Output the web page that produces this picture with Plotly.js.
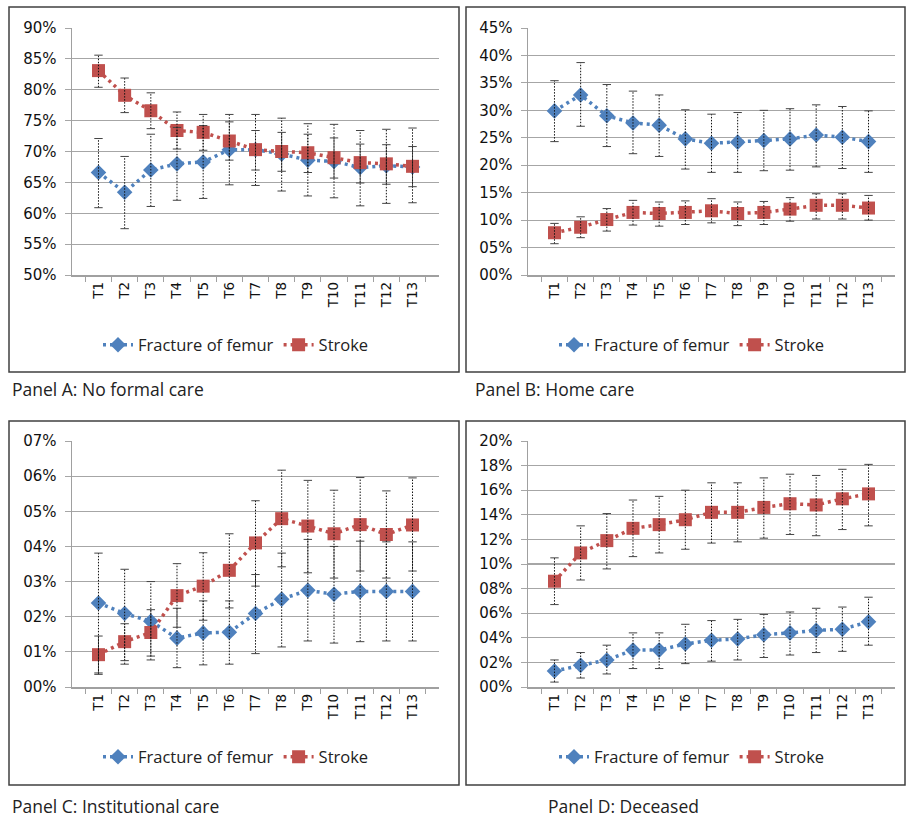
<!DOCTYPE html>
<html>
<head>
<meta charset="utf-8">
<script src="https://cdn.plot.ly/plotly-3.0.1.min.js"></script>
<style>html,body{margin:0;padding:0;background:#fff;}#chart{width:907px;height:819px;}</style>
</head>
<body>
<div id="chart"></div>
<script>
// ---------- DATA ----------
const categories = ["T1","T2","T3","T4","T5","T6","T7","T8","T9","T10","T11","T12","T13"];
const seriesNames = ["Fracture of femur", "Stroke"];

// Panel A: No formal care (%)
const femurA    = [66.6, 63.4, 67.0, 68.0, 68.3, 70.3, 70.3, 69.6, 68.6, 68.4, 67.4, 67.7, 67.5];
const femurA_hi = [72.1, 69.2, 72.8, 73.9, 74.2, 76.0, 76.0, 75.4, 74.5, 74.4, 73.4, 73.6, 73.8];
const femurA_lo = [60.9, 57.5, 61.1, 62.1, 62.4, 64.6, 64.5, 63.6, 62.8, 62.5, 61.2, 61.6, 61.7];
const strokeA    = [83.1, 79.1, 76.6, 73.4, 73.1, 71.7, 70.3, 70.0, 69.8, 69.0, 68.2, 68.0, 67.6];
const strokeA_hi = [85.6, 81.9, 79.5, 76.4, 76.0, 74.8, 73.4, 73.1, 72.8, 72.2, 71.2, 71.1, 70.8];
const strokeA_lo = [80.4, 76.3, 73.7, 70.4, 70.2, 68.6, 67.0, 66.8, 66.6, 65.7, 64.9, 64.7, 64.3];

// Panel B: Home care (%)
const femurB    = [29.9, 32.8, 29.0, 27.7, 27.3, 24.8, 24.0, 24.2, 24.5, 24.8, 25.5, 25.1, 24.3];
const femurB_hi = [35.4, 38.7, 34.7, 33.5, 32.8, 30.1, 29.3, 29.6, 30.0, 30.3, 31.0, 30.7, 29.9];
const femurB_lo = [24.3, 27.1, 23.4, 22.1, 21.6, 19.3, 18.7, 18.7, 19.0, 19.1, 19.7, 19.4, 18.7];
const strokeB    = [7.7, 8.7, 10.1, 11.4, 11.2, 11.4, 11.7, 11.2, 11.4, 12.0, 12.7, 12.7, 12.2];
const strokeB_hi = [9.4, 10.6, 12.1, 13.6, 13.3, 13.5, 13.9, 13.3, 13.4, 14.1, 14.8, 14.8, 14.5];
const strokeB_lo = [5.7, 6.8, 8.0, 9.1, 8.9, 9.2, 9.5, 9.0, 9.2, 9.8, 10.2, 10.2, 10.0];

// Panel C: Institutional care
const femurC    = [2.39, 2.09, 1.87, 1.39, 1.54, 1.56, 2.09, 2.50, 2.75, 2.64, 2.72, 2.72, 2.72];
const femurC_hi = [3.81, 3.35, 3.00, 2.24, 2.45, 2.45, 3.20, 3.81, 4.20, 4.00, 4.15, 4.13, 4.13];
const femurC_lo = [0.36, 0.65, 0.77, 0.55, 0.63, 0.65, 0.95, 1.14, 1.31, 1.25, 1.29, 1.31, 1.31];
const strokeC    = [0.92, 1.29, 1.55, 2.60, 2.87, 3.32, 4.10, 4.79, 4.58, 4.36, 4.62, 4.34, 4.61];
const strokeC_hi = [1.45, 1.80, 2.20, 3.51, 3.82, 4.36, 5.30, 6.17, 5.88, 5.60, 5.96, 5.58, 5.95];
const strokeC_lo = [0.40, 0.75, 0.88, 1.70, 1.90, 2.25, 2.87, 3.42, 3.25, 3.10, 3.30, 3.10, 3.30];

// Panel D: Deceased
const femurD    = [1.3, 1.76, 2.2, 3.0, 3.0, 3.5, 3.8, 3.9, 4.25, 4.4, 4.6, 4.7, 5.3];
const femurD_hi = [2.2, 2.8, 3.4, 4.4, 4.4, 5.1, 5.4, 5.5, 5.9, 6.1, 6.4, 6.5, 7.3];
const femurD_lo = [0.4, 0.73, 1.06, 1.5, 1.5, 1.9, 2.1, 2.2, 2.4, 2.6, 2.8, 2.9, 3.4];
const strokeD    = [8.6, 10.9, 11.9, 12.9, 13.2, 13.6, 14.2, 14.2, 14.6, 14.9, 14.8, 15.3, 15.7];
const strokeD_hi = [10.5, 13.1, 14.1, 15.2, 15.5, 16.0, 16.6, 16.6, 17.0, 17.3, 17.2, 17.7, 18.1];
const strokeD_lo = [6.7, 8.7, 9.6, 10.6, 10.9, 11.2, 11.7, 11.8, 12.1, 12.4, 12.3, 12.8, 13.1];

// Tick labels
const tickValsA = [50, 55, 60, 65, 70, 75, 80, 85, 90];
const tickTextA = ["50%","55%","60%","65%","70%","75%","80%","85%","90%"];
const tickValsB = [0, 5, 10, 15, 20, 25, 30, 35, 40, 45];
const tickTextB = ["00%","05%","10%","15%","20%","25%","30%","35%","40%","45%"];
const tickValsC = [0, 1, 2, 3, 4, 5, 6, 7];
const tickTextC = ["00%","01%","02%","03%","04%","05%","06%","07%"];
const tickValsD = [0, 2, 4, 6, 8, 10, 12, 14, 16, 18, 20];
const tickTextD = ["00%","02%","04%","06%","08%","10%","12%","14%","16%","18%","20%"];

const panelLabels = ["Panel A: No formal care", "Panel B: Home care", "Panel C: Institutional care", "Panel D: Deceased"];

// ---------- STYLE / LAYOUT ----------
const W = 907, H = 819;
const px = v => v / W;
const py = v => 1 - v / H;
const BLUE = "#4f81bd", RED = "#c0504d";

const panels = [
  {xa:"x",  ya:"y",  leg:"legend",  f:[femurA,femurA_lo,femurA_hi], s:[strokeA,strokeA_lo,strokeA_hi]},
  {xa:"x2", ya:"y2", leg:"legend2", f:[femurB,femurB_lo,femurB_hi], s:[strokeB,strokeB_lo,strokeB_hi]},
  {xa:"x3", ya:"y3", leg:"legend3", f:[femurC,femurC_lo,femurC_hi], s:[strokeC,strokeC_lo,strokeC_hi]},
  {xa:"x4", ya:"y4", leg:"legend4", f:[femurD,femurD_lo,femurD_hi], s:[strokeD,strokeD_lo,strokeD_hi]}
];

function errTraces(vals, lo, hi, xa, ya) {
  const ex = [], ey = [], cx = [], cy = [];
  categories.forEach((c, i) => {
    ex.push(c, c, null); ey.push(lo[i], hi[i], null);
    cx.push(c, c); cy.push(lo[i], hi[i]);
  });
  return [
    {x: ex, y: ey, xaxis: xa, yaxis: ya, mode: "lines", showlegend: false, hoverinfo: "skip",
     line: {color: "#111", width: 1, dash: "1.5px,1.5px"}},
    {x: cx, y: cy, xaxis: xa, yaxis: ya, mode: "markers", showlegend: false, hoverinfo: "skip",
     marker: {symbol: "line-ew", size: 6, line: {color: "#444", width: 1}}}
  ];
}

const traces = [];
panels.forEach(p => {
  traces.push({x: categories, y: p.f[0], name: seriesNames[0], xaxis: p.xa, yaxis: p.ya, legend: p.leg,
    mode: "lines+markers", line: {color: BLUE, width: 3.5, dash: "3px,4px"},
    marker: {symbol: "diamond", size: 12, color: BLUE}});
  traces.push({x: categories, y: p.s[0], name: seriesNames[1], xaxis: p.xa, yaxis: p.ya, legend: p.leg,
    mode: "lines+markers", line: {color: RED, width: 3.5, dash: "3px,4px"},
    marker: {symbol: "square", size: 13, color: RED}});
  traces.push(...errTraces(p.f[0], p.f[1], p.f[2], p.xa, p.ya));
  traces.push(...errTraces(p.s[0], p.s[1], p.s[2], p.xa, p.ya));
});

const xBase = {type: "category", tickangle: -90, ticks: "outside", ticklen: 5, tickcolor: "#a0a0a0",
  tickson: "boundaries", showline: true, linecolor: "#a0a0a0", linewidth: 1.5, showgrid: false,
  tickfont: {family: "DejaVu Sans", size: 13.5, color: "#111"}, fixedrange: true, zeroline: false};
const yBase = {ticks: "outside", ticklen: 6, tickcolor: "#a6a6a6", showline: true, linecolor: "#a0a0a0",
  linewidth: 1.5, showgrid: true, gridcolor: "#a6a6a6", gridwidth: 1.2, zeroline: false,
  tickfont: {family: "DejaVu Sans", size: 15, color: "#111"}, ticklabelstandoff: 5, fixedrange: true};

const xdomL = [px(72), px(439)], xdomR = [px(528), px(895)];
const ydomT = [py(275), py(28)], ydomB = [py(687), py(441)];

const legBase = {orientation: "h", xanchor: "center", yanchor: "middle", bgcolor: "rgba(0,0,0,0)",
  font: {family: "Open Sans", size: 16.5, color: "#222"}};

const layout = {
  width: W, height: H, margin: {l: 0, r: 0, t: 0, b: 0},
  paper_bgcolor: "#fff", plot_bgcolor: "#fff", showlegend: true,
  xaxis:  Object.assign({}, xBase, {domain: xdomL, anchor: "y"}),
  xaxis2: Object.assign({}, xBase, {domain: xdomR, anchor: "y2"}),
  xaxis3: Object.assign({}, xBase, {domain: xdomL, anchor: "y3"}),
  xaxis4: Object.assign({}, xBase, {domain: xdomR, anchor: "y4"}),
  yaxis:  Object.assign({}, yBase, {domain: ydomT, anchor: "x",  range: [50, 90], tickvals: tickValsA, ticktext: tickTextA}),
  yaxis2: Object.assign({}, yBase, {domain: ydomT, anchor: "x2", range: [0, 45], tickvals: tickValsB, ticktext: tickTextB}),
  yaxis3: Object.assign({}, yBase, {domain: ydomB, anchor: "x3", range: [0, 7], tickvals: tickValsC, ticktext: tickTextC}),
  yaxis4: Object.assign({}, yBase, {domain: ydomB, anchor: "x4", range: [0, 20], tickvals: tickValsD, ticktext: tickTextD}),
  legend:  Object.assign({}, legBase, {x: px(236), y: py(345)}),
  legend2: Object.assign({}, legBase, {x: px(692), y: py(345)}),
  legend3: Object.assign({}, legBase, {x: px(236), y: py(757)}),
  legend4: Object.assign({}, legBase, {x: px(692), y: py(757)}),
  shapes: [
    [9, 7, 459, 372], [466, 7, 905, 372], [9, 421, 459, 785], [466, 421, 905, 785]
  ].map(b => ({type: "rect", xref: "paper", yref: "paper", x0: px(b[0]), x1: px(b[2]), y0: py(b[3]), y1: py(b[1]),
    line: {color: "#404040", width: 1.5}, fillcolor: "rgba(0,0,0,0)", layer: "below"})),
  annotations: [
    [10, 389, 0], [473, 389, 1], [10, 806, 2], [546, 806, 3]
  ].map(a => ({xref: "paper", yref: "paper", x: px(a[0]), y: py(a[1]), xanchor: "left", yanchor: "middle",
    text: panelLabels[a[2]], showarrow: false, font: {family: "Open Sans", size: 17.5, color: "#222"}}))
};

Plotly.newPlot("chart", traces, layout, {staticPlot: true, displayModeBar: false});
</script>
</body>
</html>
